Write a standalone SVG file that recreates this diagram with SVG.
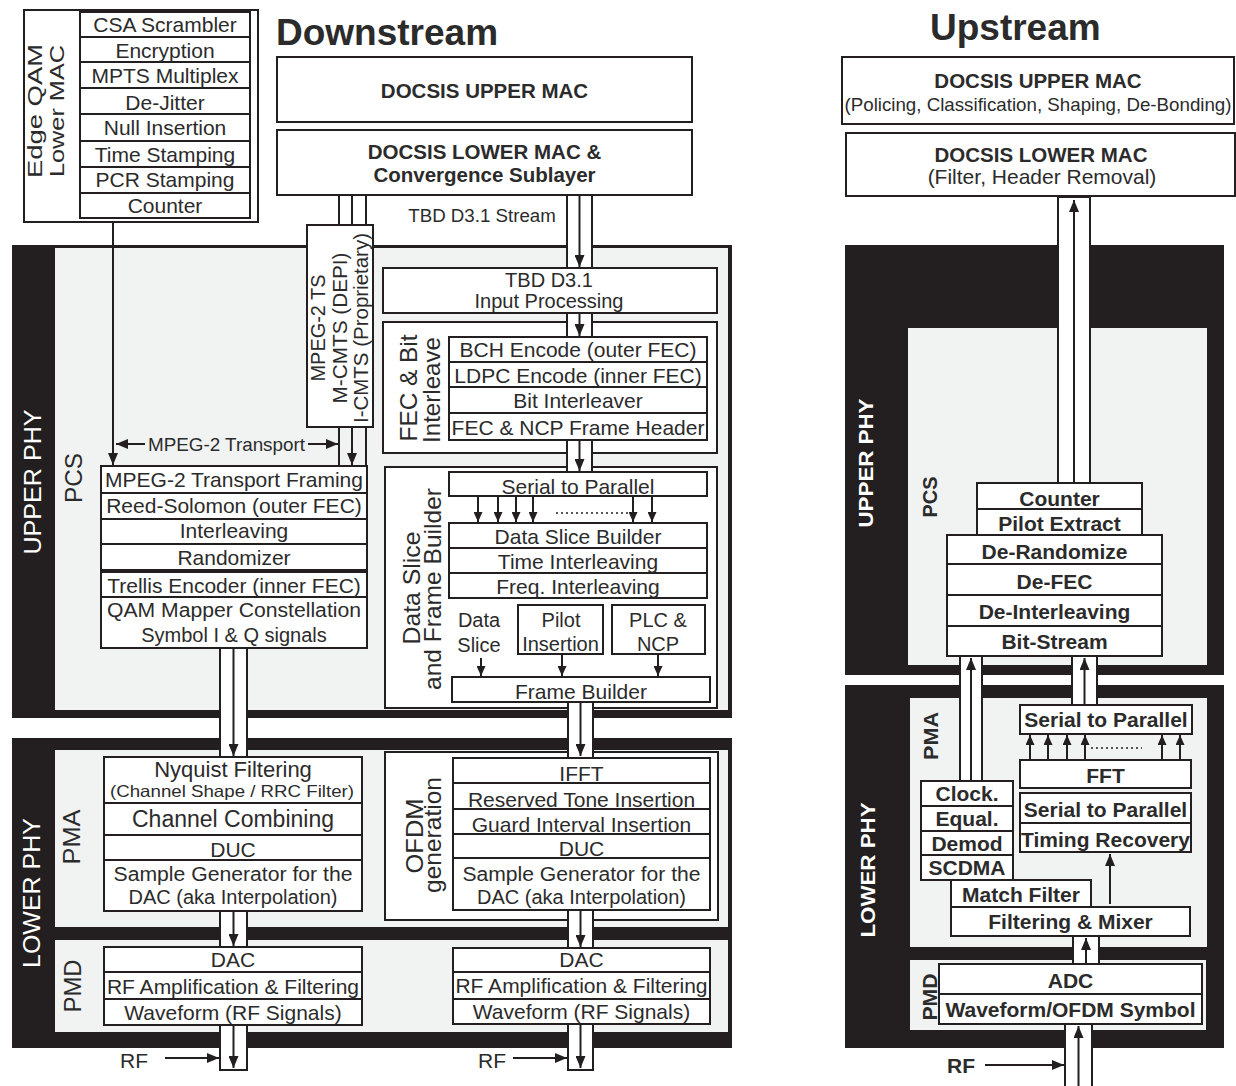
<svg xmlns="http://www.w3.org/2000/svg" width="1236" height="1086" viewBox="0 0 1236 1086">
<defs>
<style>
.bx{fill:#fff;stroke:#231f20;stroke-width:2}
.blk{fill:#231f20}
.gry{fill:#f1f2f2}
.t{font-family:"Liberation Sans",Arial,Helvetica,sans-serif;font-size:21px;fill:#2b2b2b;text-anchor:middle}
.b{font-weight:bold}
.h{font-weight:bold;font-size:20.5px}
.w{fill:#fff}
.r{font-size:24px}
.s2{font-size:20px}
.ln{stroke:#231f20;stroke-width:2;fill:none}
.dot{stroke:#231f20;stroke-width:1.5;stroke-dasharray:2 3;fill:none}
.pp{fill:#fff;stroke:#231f20;stroke-width:2}
</style>
<marker id="ah" viewBox="0 0 12 10" refX="12" refY="5" markerWidth="12" markerHeight="10" markerUnits="userSpaceOnUse" orient="auto-start-reverse"><path d="M0,0L12,5L0,10z" fill="#231f20"/></marker>
<marker id="as" viewBox="0 0 10 9" refX="10" refY="4.5" markerWidth="10" markerHeight="9" markerUnits="userSpaceOnUse" orient="auto"><path d="M0,0L10,4.5L0,9z" fill="#231f20"/></marker>
</defs>
<rect width="1236" height="1086" fill="#fff"/>

<!-- Regions -->
<g id="ds-upper-phy">
<rect class="blk" x="12" y="245" width="720" height="473"/>
<rect class="gry" x="55" y="248" width="673" height="462"/>
<text class="t r w" transform="translate(41,482) rotate(-90)" textLength="145" lengthAdjust="spacingAndGlyphs">UPPER PHY</text>
<text class="t r" transform="translate(82,478) rotate(-90)" textLength="50" lengthAdjust="spacingAndGlyphs">PCS</text>
</g>
<g id="ds-lower-phy">
<rect class="blk" x="12" y="738" width="720" height="310"/>
<rect class="gry" x="55" y="750" width="673" height="177"/>
<rect class="gry" x="55" y="940" width="673" height="92"/>
<text class="t r w" transform="translate(40,893) rotate(-90)" textLength="150" lengthAdjust="spacingAndGlyphs">LOWER PHY</text>
<text class="t r" transform="translate(80,837) rotate(-90)" textLength="55" lengthAdjust="spacingAndGlyphs">PMA</text>
<text class="t r" transform="translate(81,986) rotate(-90)" textLength="53" lengthAdjust="spacingAndGlyphs">PMD</text>
</g>
<g id="us-upper-phy">
<rect class="blk" x="845" y="245" width="379" height="430"/>
<rect class="gry" x="908" y="328" width="299" height="337"/>
<text class="t b w" transform="translate(873,463) rotate(-90)" textLength="129" lengthAdjust="spacingAndGlyphs">UPPER PHY</text>
<text class="t b" transform="translate(937,497) rotate(-90)" textLength="41" lengthAdjust="spacingAndGlyphs">PCS</text>
</g>
<g id="us-lower-phy">
<rect class="blk" x="845" y="685" width="379" height="363"/>
<rect class="gry" x="910" y="698" width="297" height="249"/>
<rect class="gry" x="910" y="960" width="296" height="70"/>
<text class="t b w" transform="translate(875,870) rotate(-90)" textLength="135" lengthAdjust="spacingAndGlyphs">LOWER PHY</text>
<text class="t b" transform="translate(938,736) rotate(-90)" textLength="48" lengthAdjust="spacingAndGlyphs">PMA</text>
<text class="t b" transform="translate(937,997) rotate(-90)" textLength="47" lengthAdjust="spacingAndGlyphs">PMD</text>
</g>

<!-- Titles -->
<text class="t b" x="276" y="45" style="font-size:37px;text-anchor:start">Downstream</text>
<text class="t b" x="930" y="40" style="font-size:37px;text-anchor:start">Upstream</text>

<!-- Edge QAM -->
<g id="edge-qam">
<rect class="bx" x="24" y="10" width="234" height="212"/>
<rect class="bx" x="80" y="12" width="170" height="25"/>
<rect class="bx" x="80" y="37" width="170" height="25"/>
<rect class="bx" x="80" y="62" width="170" height="26"/>
<rect class="bx" x="80" y="88" width="170" height="26"/>
<rect class="bx" x="80" y="114" width="170" height="27"/>
<rect class="bx" x="80" y="141" width="170" height="26"/>
<rect class="bx" x="80" y="167" width="170" height="26"/>
<rect class="bx" x="80" y="193" width="170" height="25"/>
<text class="t" x="165" y="32">CSA Scrambler</text>
<text class="t" x="165" y="58">Encryption</text>
<text class="t" x="165" y="83">MPTS Multiplex</text>
<text class="t" x="165" y="110">De-Jitter</text>
<text class="t" x="165" y="135">Null Insertion</text>
<text class="t" x="165" y="162">Time Stamping</text>
<text class="t" x="165" y="187">PCR Stamping</text>
<text class="t" x="165" y="213">Counter</text>
<text class="t" style="font-size:21px" transform="translate(42,111) rotate(-90)" textLength="134" lengthAdjust="spacingAndGlyphs">Edge QAM</text>
<text class="t" style="font-size:21px" transform="translate(64,111) rotate(-90)" textLength="132" lengthAdjust="spacingAndGlyphs">Lower MAC</text>
</g>

<!-- Downstream MAC -->
<g id="ds-upper-mac">
<rect class="bx" x="277" y="57" width="415" height="65"/>
<text class="t h" x="484.5" y="98">DOCSIS UPPER MAC</text>
</g>
<g id="ds-lower-mac">
<rect class="bx" x="277" y="130" width="415" height="65"/>
<text class="t h" x="484.5" y="159">DOCSIS LOWER MAC &amp;</text>
<text class="t h" x="484.5" y="182">Convergence Sublayer</text>
</g>

<g id="ts-box">
<rect class="bx" x="307" y="225" width="66" height="202"/>
<text class="t" style="font-size:20px" transform="translate(325,328) rotate(-90)" textLength="107" lengthAdjust="spacingAndGlyphs">MPEG-2 TS</text>
<text class="t" style="font-size:20px" transform="translate(347,328) rotate(-90)" textLength="151" lengthAdjust="spacingAndGlyphs">M-CMTS (DEPI)</text>
<text class="t" style="font-size:20px" transform="translate(368,328) rotate(-90)" textLength="190" lengthAdjust="spacingAndGlyphs">I-CMTS (Proprietary)</text>
</g>

<!-- Downstream left PCS stack -->
<g id="ds-pcs-qam">
<rect class="bx" x="101" y="466" width="266" height="27"/>
<rect class="bx" x="101" y="493" width="266" height="26"/>
<rect class="bx" x="101" y="519" width="266" height="25"/>
<rect class="bx" x="101" y="544" width="266" height="26"/>
<rect class="bx" x="101" y="572" width="266" height="25"/>
<rect class="bx" x="101" y="597" width="266" height="51"/>
<text class="t" x="234" y="487">MPEG-2 Transport Framing</text>
<text class="t" x="234" y="513">Reed-Solomon (outer FEC)</text>
<text class="t" x="234" y="538">Interleaving</text>
<text class="t" x="234" y="565">Randomizer</text>
<text class="t" x="234" y="593">Trellis Encoder (inner FEC)</text>
<text class="t s2" x="234" y="617" textLength="254" lengthAdjust="spacingAndGlyphs">QAM Mapper Constellation</text>
<text class="t s2" x="234" y="642">Symbol I &amp; Q signals</text>
</g>

<!-- Downstream middle upper -->
<g id="ds-input">
<rect class="bx" x="383" y="268" width="334" height="45"/>
<text class="t s2" x="549" y="287">TBD D3.1</text>
<text class="t s2" x="549" y="308">Input Processing</text>
</g>
<g id="ds-fec">
<rect class="bx" x="383" y="322" width="334" height="131"/>
<text class="t r" transform="translate(417,388) rotate(-90)" textLength="107" lengthAdjust="spacingAndGlyphs">FEC &amp; Bit</text>
<text class="t r" transform="translate(440,390) rotate(-90)" textLength="106" lengthAdjust="spacingAndGlyphs">Interleave</text>
<rect class="bx" x="449" y="337" width="258" height="25"/>
<rect class="bx" x="449" y="362" width="258" height="25"/>
<rect class="bx" x="449" y="387" width="258" height="26"/>
<rect class="bx" x="449" y="413" width="258" height="27"/>
<text class="t" x="578" y="357">BCH Encode (outer FEC)</text>
<text class="t" x="578" y="383">LDPC Encode (inner FEC)</text>
<text class="t" x="578" y="408">Bit Interleaver</text>
<text class="t" x="578" y="435">FEC &amp; NCP Frame Header</text>
</g>
<g id="ds-dataslice">
<rect class="bx" x="385" y="467" width="332" height="241"/>
<text class="t r" transform="translate(420,588) rotate(-90)" textLength="113" lengthAdjust="spacingAndGlyphs">Data Slice</text>
<text class="t r" transform="translate(441,589) rotate(-90)" textLength="202" lengthAdjust="spacingAndGlyphs">and Frame Builder</text>
<rect class="bx" x="449" y="472" width="258" height="24"/>
<text class="t" x="578" y="494">Serial to Parallel</text>
<rect class="bx" x="449" y="523" width="258" height="25"/>
<rect class="bx" x="449" y="548" width="258" height="25"/>
<rect class="bx" x="449" y="573" width="258" height="25"/>
<text class="t" x="578" y="544">Data Slice Builder</text>
<text class="t" x="578" y="569">Time Interleaving</text>
<text class="t" x="578" y="594">Freq. Interleaving</text>
<text class="t s2" x="479" y="627">Data</text>
<text class="t s2" x="479" y="652">Slice</text>
<rect class="bx" x="518" y="605" width="85" height="49"/>
<text class="t s2" x="561" y="627">Pilot</text>
<text class="t s2" x="560.5" y="651">Insertion</text>
<rect class="bx" x="612" y="605" width="93" height="49"/>
<text class="t s2" x="658" y="627">PLC &amp;</text>
<text class="t s2" x="658" y="651">NCP</text>
<rect class="bx" x="452" y="677" width="258" height="25"/>
<text class="t" x="581" y="699">Frame Builder</text>
</g>

<!-- Downstream lower left -->
<g id="ds-pma-qam">
<rect class="bx" x="104" y="757" width="258" height="46"/>
<rect class="bx" x="104" y="803" width="258" height="32"/>
<rect class="bx" x="104" y="835" width="258" height="25"/>
<rect class="bx" x="104" y="860" width="258" height="51"/>
<text class="t" style="font-size:22px" x="233" y="777">Nyquist Filtering</text>
<text class="t" style="font-size:16.5px" x="232" y="797" textLength="244" lengthAdjust="spacingAndGlyphs">(Channel Shape / RRC Filter)</text>
<text class="t" style="font-size:23px" x="233" y="827">Channel Combining</text>
<text class="t" x="233" y="857">DUC</text>
<text class="t s2" x="233" y="881" textLength="239" lengthAdjust="spacingAndGlyphs">Sample Generator for the</text>
<text class="t s2" x="233" y="904">DAC (aka Interpolation)</text>
</g>
<g id="ds-pmd-qam">
<rect class="bx" x="104" y="947" width="258" height="25"/>
<rect class="bx" x="104" y="972" width="258" height="27"/>
<rect class="bx" x="104" y="999" width="258" height="26"/>
<text class="t" x="233" y="967">DAC</text>
<text class="t" x="233" y="994">RF Amplification &amp; Filtering</text>
<text class="t" x="233" y="1020">Waveform (RF Signals)</text>
</g>

<!-- Downstream lower middle -->
<g id="ds-ofdm">
<rect class="bx" x="385" y="752" width="333" height="168"/>
<text class="t r" transform="translate(423,836) rotate(-90)" textLength="75" lengthAdjust="spacingAndGlyphs">OFDM</text>
<text class="t r" transform="translate(441,835) rotate(-90)" textLength="116" lengthAdjust="spacingAndGlyphs">generation</text>
<rect class="bx" x="453" y="758" width="257" height="25"/>
<rect class="bx" x="453" y="783" width="257" height="26"/>
<rect class="bx" x="453" y="809" width="257" height="25"/>
<rect class="bx" x="453" y="834" width="257" height="24"/>
<rect class="bx" x="453" y="858" width="257" height="52"/>
<text class="t" x="581.5" y="781">IFFT</text>
<text class="t" x="581.5" y="807">Reserved Tone Insertion</text>
<text class="t" x="581.5" y="832">Guard Interval Insertion</text>
<text class="t" x="581.5" y="856">DUC</text>
<text class="t s2" x="581.5" y="881" textLength="238" lengthAdjust="spacingAndGlyphs">Sample Generator for the</text>
<text class="t s2" x="581.5" y="904">DAC (aka Interpolation)</text>
</g>
<g id="ds-pmd-ofdm">
<rect class="bx" x="453" y="948" width="257" height="24"/>
<rect class="bx" x="453" y="972" width="257" height="27"/>
<rect class="bx" x="453" y="999" width="257" height="25"/>
<text class="t" x="581.5" y="967">DAC</text>
<text class="t" x="581.5" y="993">RF Amplification &amp; Filtering</text>
<text class="t" x="581.5" y="1019">Waveform (RF Signals)</text>
</g>

<!-- Upstream MAC -->
<g id="us-upper-mac">
<rect class="bx" x="842" y="57" width="392" height="67"/>
<text class="t h" x="1038" y="88">DOCSIS UPPER MAC</text>
<text class="t" style="font-size:18.5px" x="1038" y="111" textLength="387" lengthAdjust="spacingAndGlyphs">(Policing, Classification, Shaping, De-Bonding)</text>
</g>
<g id="us-lower-mac">
<rect class="bx" x="846" y="133" width="389" height="63"/>
<text class="t h" x="1041" y="162">DOCSIS LOWER MAC</text>
<text class="t" x="1042" y="184">(Filter, Header Removal)</text>
</g>

<!-- Upstream PCS -->
<g id="us-pcs">
<rect class="bx" x="977" y="483" width="165" height="26"/>
<rect class="bx" x="977" y="509" width="165" height="26"/>
<rect class="bx" x="947" y="535" width="215" height="29"/>
<rect class="bx" x="947" y="564" width="215" height="31"/>
<rect class="bx" x="947" y="595" width="215" height="31"/>
<rect class="bx" x="947" y="626" width="215" height="30"/>
<text class="t b" x="1059.5" y="506">Counter</text>
<text class="t b" x="1059.5" y="531">Pilot Extract</text>
<text class="t b" x="1054.5" y="559">De-Randomize</text>
<text class="t b" x="1054.5" y="589">De-FEC</text>
<text class="t b" x="1054.5" y="619">De-Interleaving</text>
<text class="t b" x="1054.5" y="649">Bit-Stream</text>
</g>

<!-- Upstream PMA -->
<g id="us-ofdm">
<rect class="bx" x="1020" y="705" width="172" height="29"/>
<text class="t b" x="1106" y="727">Serial to Parallel</text>
<rect class="bx" x="1020" y="760" width="171" height="28"/>
<rect class="bx" x="1020" y="793" width="171" height="30"/>
<rect class="bx" x="1020" y="823" width="171" height="29"/>
<text class="t b" x="1105.5" y="783">FFT</text>
<text class="t b" x="1105.5" y="817">Serial to Parallel</text>
<text class="t b" x="1105.5" y="847">Timing Recovery</text>
</g>
<g id="us-scdma">
<rect class="bx" x="921" y="781" width="92" height="25"/>
<rect class="bx" x="921" y="806" width="92" height="25"/>
<rect class="bx" x="921" y="831" width="92" height="24"/>
<rect class="bx" x="921" y="855" width="92" height="25"/>
<text class="t b" x="967" y="801">Clock.</text>
<text class="t b" x="967" y="826">Equal.</text>
<text class="t b" x="967" y="851">Demod</text>
<text class="t b" x="967" y="875">SCDMA</text>
</g>
<g id="us-filter">
<rect class="bx" x="951" y="880" width="140" height="27"/>
<text class="t b" x="1021" y="902">Match Filter</text>
<rect class="bx" x="951" y="907" width="239" height="29"/>
<text class="t b" x="1070.5" y="929">Filtering &amp; Mixer</text>
</g>
<g id="us-pmd">
<rect class="bx" x="939" y="964" width="263" height="30"/>
<rect class="bx" x="939" y="994" width="263" height="30"/>
<text class="t b" x="1070.5" y="988">ADC</text>
<text class="t b" x="1070.5" y="1017">Waveform/OFDM Symbol</text>
</g>

<!-- Connectors -->
<g id="connectors">
<line class="ln" x1="113" y1="222" x2="113" y2="465" marker-end="url(#ah)"/>
<line class="ln" x1="339" y1="195" x2="339" y2="225"/>
<line class="ln" x1="352" y1="195" x2="352" y2="225"/>
<line class="ln" x1="366" y1="195" x2="366" y2="225"/>
<line class="ln" x1="339" y1="427" x2="339" y2="466"/>
<line class="ln" x1="352" y1="427" x2="352" y2="465" marker-end="url(#ah)"/>
<line class="ln" x1="366" y1="427" x2="366" y2="466"/>
<line class="ln" x1="145" y1="444" x2="116" y2="444" marker-end="url(#ah)"/>
<line class="ln" x1="308" y1="444" x2="338" y2="444" marker-end="url(#ah)"/>
<text class="t" style="font-size:19px" x="226.5" y="451" textLength="157" lengthAdjust="spacingAndGlyphs">MPEG-2 Transport</text>
<text class="t" style="font-size:18.7px" x="482" y="222">TBD D3.1 Stream</text>

<rect class="pp" x="220" y="648" width="27" height="109"/>
<line class="ln" x1="233.5" y1="648" x2="233.5" y2="756" marker-end="url(#ah)"/>
<rect class="pp" x="220" y="911" width="27" height="36"/>
<line class="ln" x1="233.5" y1="911" x2="233.5" y2="946" marker-end="url(#ah)"/>
<rect class="pp" x="220" y="1025" width="27" height="45"/>
<line class="ln" x1="233.5" y1="1025" x2="233.5" y2="1068" marker-end="url(#ah)"/>
<text class="t" style="text-anchor:start" x="120" y="1068">RF</text>
<line class="ln" x1="165" y1="1058" x2="219" y2="1058" marker-end="url(#ah)"/>

<rect class="pp" x="567" y="195" width="25" height="73"/>
<line class="ln" x1="579.5" y1="195" x2="579.5" y2="267" marker-end="url(#ah)"/>
<rect class="pp" x="567" y="313" width="25" height="24"/>
<line class="ln" x1="579.5" y1="313" x2="579.5" y2="336" marker-end="url(#ah)"/>
<rect class="pp" x="567" y="440" width="25" height="32"/>
<line class="ln" x1="579.5" y1="440" x2="579.5" y2="471" marker-end="url(#ah)"/>
<rect class="pp" x="568" y="702" width="25" height="56"/>
<line class="ln" x1="580.5" y1="702" x2="580.5" y2="756" marker-end="url(#ah)"/>
<rect class="pp" x="568" y="910" width="25" height="38"/>
<line class="ln" x1="580.5" y1="910" x2="580.5" y2="947" marker-end="url(#ah)"/>
<rect class="pp" x="568" y="1024" width="25" height="46"/>
<line class="ln" x1="580.5" y1="1024" x2="580.5" y2="1068" marker-end="url(#ah)"/>
<text class="t" style="text-anchor:start" x="478" y="1068">RF</text>
<line class="ln" x1="513" y1="1058" x2="567" y2="1058" marker-end="url(#ah)"/>

<line class="ln" x1="478" y1="496" x2="478" y2="522" marker-end="url(#as)"/>
<line class="ln" x1="498" y1="496" x2="498" y2="522" marker-end="url(#as)"/>
<line class="ln" x1="516" y1="496" x2="516" y2="522" marker-end="url(#as)"/>
<line class="ln" x1="533" y1="496" x2="533" y2="522" marker-end="url(#as)"/>
<line class="ln" x1="633" y1="496" x2="633" y2="522" marker-end="url(#as)"/>
<line class="ln" x1="652" y1="496" x2="652" y2="522" marker-end="url(#as)"/>
<line class="dot" x1="556" y1="513" x2="628" y2="513"/>
<line class="ln" x1="481" y1="658" x2="481" y2="676" marker-end="url(#as)"/>
<line class="ln" x1="562" y1="654" x2="562" y2="676" marker-end="url(#as)"/>
<line class="ln" x1="658" y1="654" x2="658" y2="676" marker-end="url(#as)"/>

<rect class="pp" x="1058" y="197" width="32" height="286"/>
<line class="ln" x1="1074" y1="483" x2="1074" y2="200" marker-end="url(#ah)"/>
<rect class="pp" x="960" y="656" width="22" height="125"/>
<line class="ln" x1="971" y1="781" x2="971" y2="658" marker-end="url(#ah)"/>
<rect class="pp" x="1072" y="656" width="25" height="49"/>
<line class="ln" x1="1084.5" y1="705" x2="1084.5" y2="658" marker-end="url(#ah)"/>
<line class="ln" x1="1030" y1="760" x2="1030" y2="735" marker-end="url(#as)"/>
<line class="ln" x1="1048" y1="760" x2="1048" y2="735" marker-end="url(#as)"/>
<line class="ln" x1="1067" y1="760" x2="1067" y2="735" marker-end="url(#as)"/>
<line class="ln" x1="1085" y1="760" x2="1085" y2="735" marker-end="url(#as)"/>
<line class="ln" x1="1162" y1="760" x2="1162" y2="735" marker-end="url(#as)"/>
<line class="ln" x1="1180" y1="760" x2="1180" y2="735" marker-end="url(#as)"/>
<line class="dot" x1="1091" y1="748" x2="1142" y2="748"/>
<line class="ln" x1="1110" y1="904" x2="1110" y2="854" marker-end="url(#ah)"/>
<rect class="pp" x="1073" y="936" width="26" height="28"/>
<line class="ln" x1="1086" y1="964" x2="1086" y2="938" marker-end="url(#ah)"/>
<rect class="pp" x="1065" y="1024" width="27" height="70"/>
<line class="ln" x1="1078.5" y1="1086" x2="1078.5" y2="1026" marker-end="url(#ah)"/>
<text class="t b" style="text-anchor:start" x="947" y="1073">RF</text>
<line class="ln" x1="985" y1="1065" x2="1064" y2="1065" marker-end="url(#ah)"/>
</g>
</svg>
